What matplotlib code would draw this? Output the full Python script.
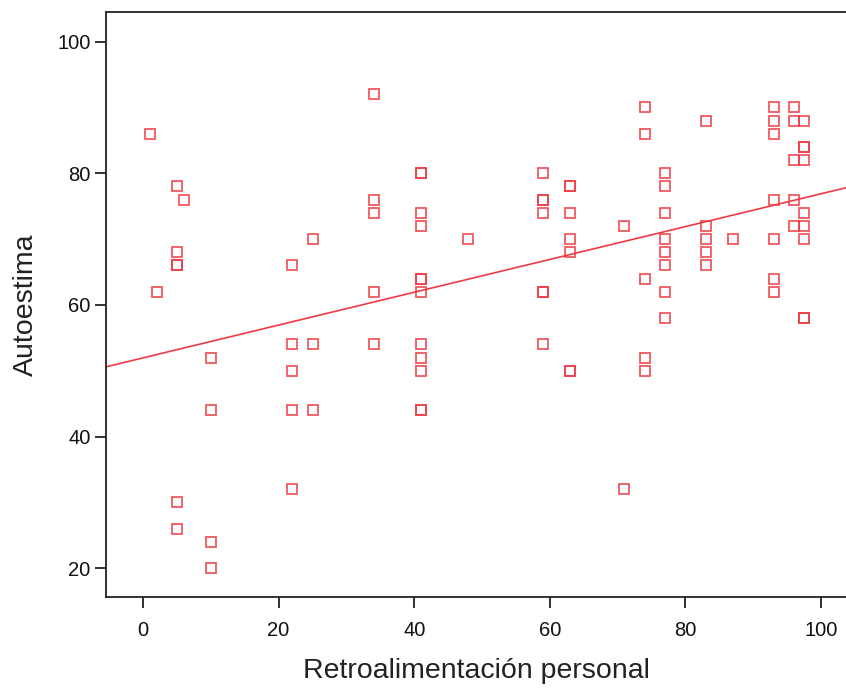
import matplotlib
matplotlib.use("Agg")
import matplotlib.pyplot as plt
import numpy as np

plt.rcParams['font.family'] = ['Liberation Sans', 'DejaVu Sans']

# Data (Retroalimentación personal, Autoestima)
retro = [1, 2, 5, 6, 5, 5, 5, 5, 5,
         10, 10, 10, 10,
         22, 22, 22, 22, 22,
         25, 25, 25,
         34, 34, 34, 34, 34,
         41, 41, 41, 41, 41, 41, 41, 41, 41, 41, 41, 41,
         48,
         59, 59, 59, 59, 59, 59, 59,
         63, 63, 63, 63, 63, 63, 63,
         71, 71,
         74, 74, 74, 74, 74,
         77, 77, 77, 77, 77, 77, 77, 77,
         83, 83, 83, 83, 83,
         87,
         93, 93, 93, 93, 93, 93, 93,
         96, 96, 96, 96, 96,
         97.5, 97.5, 97.5, 97.5, 97.5, 97.5, 97.5, 97.5, 97.5]
autoestima = [86, 62, 78, 76, 68, 66, 66, 30, 26,
              52, 44, 24, 20,
              66, 54, 50, 44, 32,
              70, 54, 44,
              92, 76, 74, 62, 54,
              80, 80, 74, 72, 64, 64, 62, 54, 52, 50, 44, 44,
              70,
              80, 76, 76, 74, 62, 62, 54,
              78, 78, 74, 70, 68, 50, 50,
              72, 32,
              90, 86, 64, 52, 50,
              80, 78, 74, 70, 68, 66, 62, 58,
              88, 72, 70, 68, 66,
              70,
              90, 88, 86, 76, 70, 64, 62,
              90, 88, 82, 76, 72,
              88, 84, 84, 82, 74, 72, 70, 58, 58]

# Fit line
fit_intercept = 51.96
fit_slope = 0.2493

xticks = [0, 20, 40, 60, 80, 100]
yticks = [20, 40, 60, 80, 100]
xlabel = "Retroalimentación personal"
ylabel = "Autoestima"

red = '#ee3b45'
dark = '#222222'

fig = plt.figure(figsize=(8.46, 6.89), dpi=100)
ax = fig.add_axes([0.1253, 0.1331, 0.8747, 0.8495])

ax.plot(retro, autoestima, linestyle='none', marker='s', markersize=7.5,
        markerfacecolor='none', markeredgecolor=red, markeredgewidth=1.3,
        alpha=0.85, zorder=3)

xlim = (-5.46, 103.69)
xs = np.array(xlim)
ax.plot(xs, fit_intercept + fit_slope * xs, color=red, linewidth=1.2, zorder=2)

ax.set_xlim(*xlim)
ax.set_ylim(15.59, 104.51)
ax.set_xticks(xticks)
ax.set_yticks(yticks)

for s in ['left', 'bottom', 'top']:
    ax.spines[s].set_color(dark)
    ax.spines[s].set_linewidth(1.3)
ax.spines['right'].set_visible(False)

ax.tick_params(axis='both', direction='out', length=8, width=1.3, color=dark,
               labelsize=14.5, labelcolor='#111111', pad=3)
ax.tick_params(axis='x', pad=9)

ax.set_xlabel(xlabel, fontsize=20.5, color='#222222', labelpad=13)
ax.set_ylabel(ylabel, fontsize=20.5, color='#222222', labelpad=13)

fig.savefig("out.png", dpi=100)
